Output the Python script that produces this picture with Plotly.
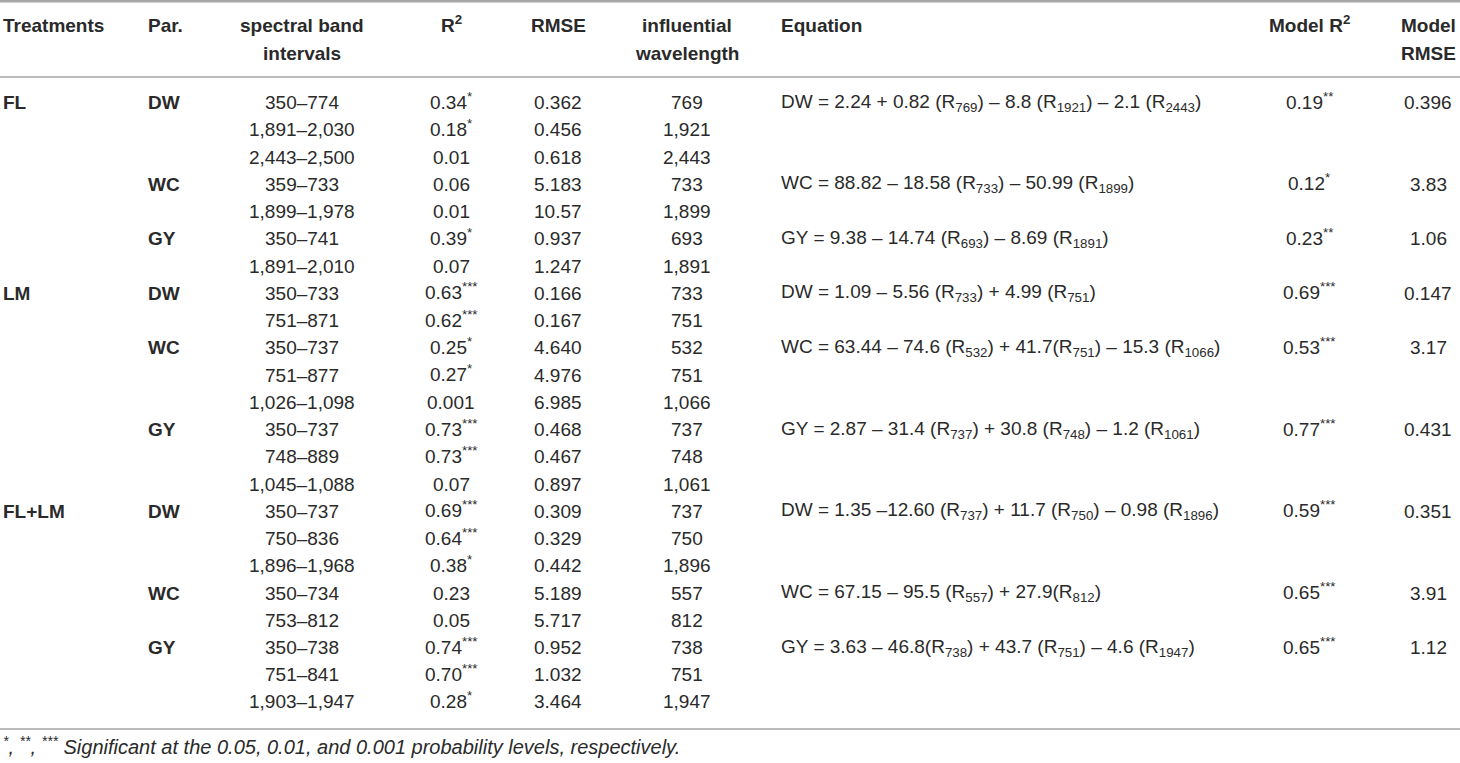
import plotly.graph_objects as go

# ---- table content (one entry per row) ----
treatments = ["FL", "", "", "", "", "", "",
              "LM", "", "", "", "", "", "", "",
              "FL+LM", "", "", "", "", "", "", ""]
params = ["DW", "", "", "WC", "", "GY", "",
          "DW", "", "WC", "", "", "GY", "", "",
          "DW", "", "", "WC", "", "GY", "", ""]
bands = ["350–774", "1,891–2,030", "2,443–2,500", "359–733", "1,899–1,978",
         "350–741", "1,891–2,010",
         "350–733", "751–871", "350–737", "751–877", "1,026–1,098",
         "350–737", "748–889", "1,045–1,088",
         "350–737", "750–836", "1,896–1,968", "350–734", "753–812",
         "350–738", "751–841", "1,903–1,947"]
r2 = ["0.34", "0.18", "0.01", "0.06", "0.01", "0.39", "0.07",
      "0.63", "0.62", "0.25", "0.27", "0.001", "0.73", "0.73", "0.07",
      "0.69", "0.64", "0.38", "0.23", "0.05", "0.74", "0.70", "0.28"]
r2_sig = ["*", "*", "", "", "", "*", "",
          "***", "***", "*", "*", "", "***", "***", "",
          "***", "***", "*", "", "", "***", "***", "*"]
rmse = ["0.362", "0.456", "0.618", "5.183", "10.57", "0.937", "1.247",
        "0.166", "0.167", "4.640", "4.976", "6.985", "0.468", "0.467", "0.897",
        "0.309", "0.329", "0.442", "5.189", "5.717", "0.952", "1.032", "3.464"]
wavelength = ["769", "1,921", "2,443", "733", "1,899", "693", "1,891",
              "733", "751", "532", "751", "1,066", "737", "748", "1,061",
              "737", "750", "1,896", "557", "812", "738", "751", "1,947"]
equations = [
    "DW = 2.24 + 0.82 (R<sub>769</sub>) – 8.8 (R<sub>1921</sub>) – 2.1 (R<sub>2443</sub>)", "", "",
    "WC = 88.82 – 18.58 (R<sub>733</sub>) – 50.99 (R<sub>1899</sub>)", "",
    "GY = 9.38 – 14.74 (R<sub>693</sub>) – 8.69 (R<sub>1891</sub>)", "",
    "DW = 1.09 – 5.56 (R<sub>733</sub>) + 4.99 (R<sub>751</sub>)", "",
    "WC = 63.44 – 74.6 (R<sub>532</sub>) + 41.7(R<sub>751</sub>) – 15.3 (R<sub>1066</sub>)", "", "",
    "GY = 2.87 – 31.4 (R<sub>737</sub>) + 30.8 (R<sub>748</sub>) – 1.2 (R<sub>1061</sub>)", "", "",
    "DW = 1.35 –12.60 (R<sub>737</sub>) + 11.7 (R<sub>750</sub>) – 0.98 (R<sub>1896</sub>)", "", "",
    "WC = 67.15 – 95.5 (R<sub>557</sub>) + 27.9(R<sub>812</sub>)", "",
    "GY = 3.63 – 46.8(R<sub>738</sub>) + 43.7 (R<sub>751</sub>) – 4.6 (R<sub>1947</sub>)", "", "",
]
model_r2 = ["0.19", "", "", "0.12", "", "0.23", "",
            "0.69", "", "0.53", "", "", "0.77", "", "",
            "0.59", "", "", "0.65", "", "0.65", "", ""]
model_r2_sig = ["**", "", "", "*", "", "**", "",
                "***", "", "***", "", "", "***", "", "",
                "***", "", "", "***", "", "***", "", ""]
model_rmse = ["0.396", "", "", "3.83", "", "1.06", "",
              "0.147", "", "3.17", "", "", "0.431", "", "",
              "0.351", "", "", "3.91", "", "1.12", "", ""]
footnote = ("<sup>*</sup>, <sup>**</sup>, <sup>***</sup> Significant at the 0.05, 0.01, "
            "and 0.001 probability levels, respectively.")

# ---- layout constants (pixels) ----
W, H = 1460, 763
FONT = "Liberation Sans, Arial, sans-serif"
INK = "#2a2a2a"
FS = 19
ROW0, ROW_H = 102.7, 27.24
HEAD1, HEAD2 = 25.7, 53.3
RULE_TOP, RULE_HEAD, RULE_BOT = 1, 77, 729
RULE_COLOR = "#a6a6a6"

# (x, anchor) per column
cols = {
    "treat": (1, "left"), "par": (146, "left"), "band": (302, "center"),
    "r2": (451, "center"), "rmse": (558, "center"), "wave": (687, "center"),
    "eq": (779, "left"), "mr2": (1309, "center"), "mrmse": (1428, "center"),
}

headers = [
    ("treat", "Treatments", ""), ("par", "Par.", ""),
    ("band", "spectral band", "intervals"), ("r2", "R<sup>2</sup>", ""),
    ("rmse", "RMSE", ""), ("wave", "influential", "wavelength"),
    ("eq", "Equation", ""), ("mr2", "Model R<sup>2</sup>", ""),
    ("mrmse", "Model", "RMSE"),
]

ann = []


def add(col, y, text, bold=False, size=FS):
    if not text:
        return
    x, anchor = cols[col]
    # a superscript makes the box taller at the top; nudge back to the row line
    shift = 2 if "<sup>" in text else 0
    ann.append(dict(
        x=x, y=y, xref="x", yref="y", text=f"<b>{text}</b>" if bold else text,
        showarrow=False, xanchor=anchor, yanchor="middle", yshift=shift,
        font=dict(family=FONT, size=size, color=INK),
    ))


for col, l1, l2 in headers:
    add(col, HEAD1, l1, bold=True)
    add(col, HEAD2, l2, bold=True)

for i in range(len(bands)):
    y = ROW0 + i * ROW_H
    add("treat", y, treatments[i], bold=True)
    add("par", y, params[i], bold=True)
    add("band", y, bands[i])
    add("r2", y, r2[i] + (f"<sup>{r2_sig[i]}</sup>" if r2_sig[i] else ""))
    add("rmse", y, rmse[i])
    add("wave", y, wavelength[i])
    add("eq", y, equations[i])
    if model_r2[i]:
        add("mr2", y, model_r2[i] + (f"<sup>{model_r2_sig[i]}</sup>" if model_r2_sig[i] else ""))
    add("mrmse", y, model_rmse[i])

ann.append(dict(
    x=1, y=746, xref="x", yref="y", text=f"<i>{footnote}</i>",
    showarrow=False, xanchor="left", yanchor="middle", yshift=1,
    font=dict(family=FONT, size=20, color=INK),
))

shapes = [
    dict(type="line", xref="x", yref="y", x0=0, x1=W, y0=RULE_TOP, y1=RULE_TOP,
         line=dict(color=RULE_COLOR, width=3)),
    dict(type="line", xref="x", yref="y", x0=0, x1=W, y0=RULE_HEAD, y1=RULE_HEAD,
         line=dict(color=RULE_COLOR, width=1.5)),
    dict(type="line", xref="x", yref="y", x0=0, x1=W, y0=RULE_BOT, y1=RULE_BOT,
         line=dict(color=RULE_COLOR, width=1.5)),
]

fig = go.Figure()
fig.update_layout(
    width=W, height=H, margin=dict(l=0, r=0, t=0, b=0),
    paper_bgcolor="white", plot_bgcolor="white",
    xaxis=dict(range=[0, W], visible=False, fixedrange=True),
    yaxis=dict(range=[H, 0], visible=False, fixedrange=True),
    annotations=ann, shapes=shapes, showlegend=False,
)
fig.write_html("out.html", post_script="document.body.style.margin='0';",
               config={"displayModeBar": False})
